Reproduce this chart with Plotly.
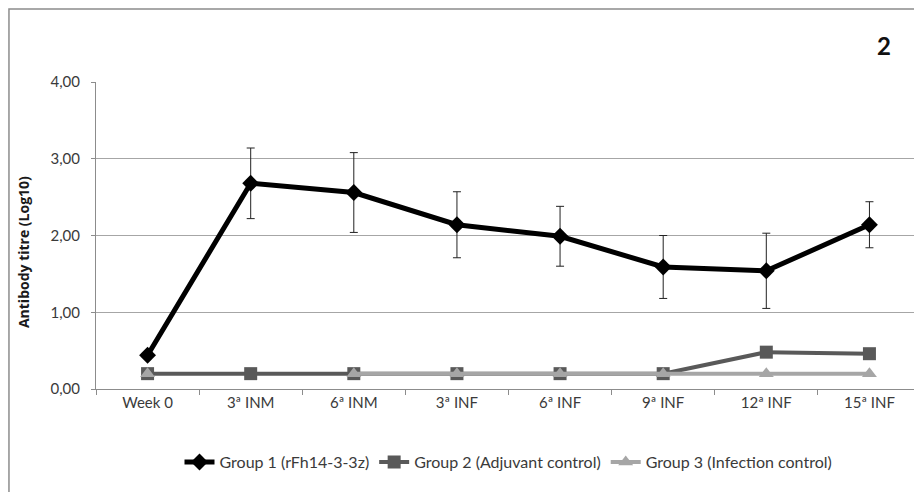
import plotly.graph_objects as go

categories = ["Week 0", "3ª INM", "6ª INM", "3ª INF", "6ª INF", "9ª INF", "12ª INF", "15ª INF"]
group1 = [0.44, 2.68, 2.56, 2.14, 1.99, 1.59, 1.54, 2.14]
group1_err = [0, 0.46, 0.52, 0.43, 0.39, 0.41, 0.49, 0.30]
group2 = [0.20, 0.20, 0.20, 0.20, 0.20, 0.20, 0.48, 0.46]
group3 = [0.20, None, 0.20, 0.20, 0.20, 0.20, 0.20, 0.20]
names = ["Group 1 (rFh14-3-3z)", "Group 2 (Adjuvant control)", "Group 3 (Infection control)"]
yticks = [0, 1, 2, 3, 4]
yticklabels = ["0,00", "1,00", "2,00", "3,00", "4,00"]

FONT = "Lato, Open Sans, sans-serif"

fig = go.Figure()
fig.add_trace(go.Scatter(
    x=categories, y=group2, name=names[1], mode="lines+markers",
    line=dict(color="#595959", width=4),
    marker=dict(symbol="square", size=13, color="#595959"),
    legendrank=2,
))
fig.add_trace(go.Scatter(
    x=categories, y=group3, name=names[2], mode="lines+markers",
    line=dict(color="#a6a6a6", width=4),
    marker=dict(symbol="triangle-up", size=13, color="#a6a6a6"),
    connectgaps=False, legendrank=3,
))
fig.add_trace(go.Scatter(
    x=categories, y=group1, name=names[0], mode="lines+markers",
    line=dict(color="#000000", width=5),
    marker=dict(symbol="diamond", size=13, color="#000000"),
    error_y=dict(type="data", array=group1_err, visible=True,
                 color="#222222", thickness=1, width=4),
    legendrank=1,
))

fig.update_layout(
    width=914, height=484,
    margin=dict(l=88, r=1, t=74, b=103),
    paper_bgcolor="white", plot_bgcolor="white",
    font=dict(family=FONT, size=15, color="#3a3a3a"),
    showlegend=True,
    legend=dict(orientation="h", x=0.5, xanchor="center", y=-0.238, yanchor="middle",
                font=dict(size=16, color="#3a3a3a")),
    xaxis=dict(
        type="category", categoryorder="array", categoryarray=categories,
        showgrid=False, showline=True, linecolor="#8c8c8c", linewidth=1,
        ticks="outside", tickson="boundaries", ticklen=5, tickcolor="#8c8c8c",
        tickfont=dict(size=15, color="#3a3a3a"),
        range=[-0.5, 7.5],
    ),
    yaxis=dict(
        range=[0, 4], tickvals=yticks, ticktext=yticklabels,
        showgrid=True, gridcolor="#a6a6a6", gridwidth=1,
        showline=True, linecolor="#8c8c8c", linewidth=1,
        ticks="outside", ticklen=4, tickcolor="#8c8c8c",
        ticklabelstandoff=8,
        tickfont=dict(size=15, color="#3a3a3a"),
        zeroline=False,
    ),
    annotations=[
        dict(text="<b>2</b>", xref="paper", yref="paper", x=0.955, y=1.12,
             xanchor="center", yanchor="middle",
             showarrow=False, font=dict(size=24, color="#111111", family=FONT)),
        dict(text="<b>Antibody titre (Log10)</b>", xref="paper", yref="paper",
             x=-0.0885, y=0.446, xanchor="center", yanchor="middle", textangle=-90,
             showarrow=False, font=dict(size=14, color="#1a1a1a", family="Open Sans, sans-serif")),
    ],
    shapes=[dict(type="rect", xref="paper", yref="paper", x0=-0.1055, x1=1.02, y0=-0.4, y1=1.2378,
                 line=dict(color="#8c8c8c", width=1.5), layer="below")],
)

fig.write_html("out.html")
